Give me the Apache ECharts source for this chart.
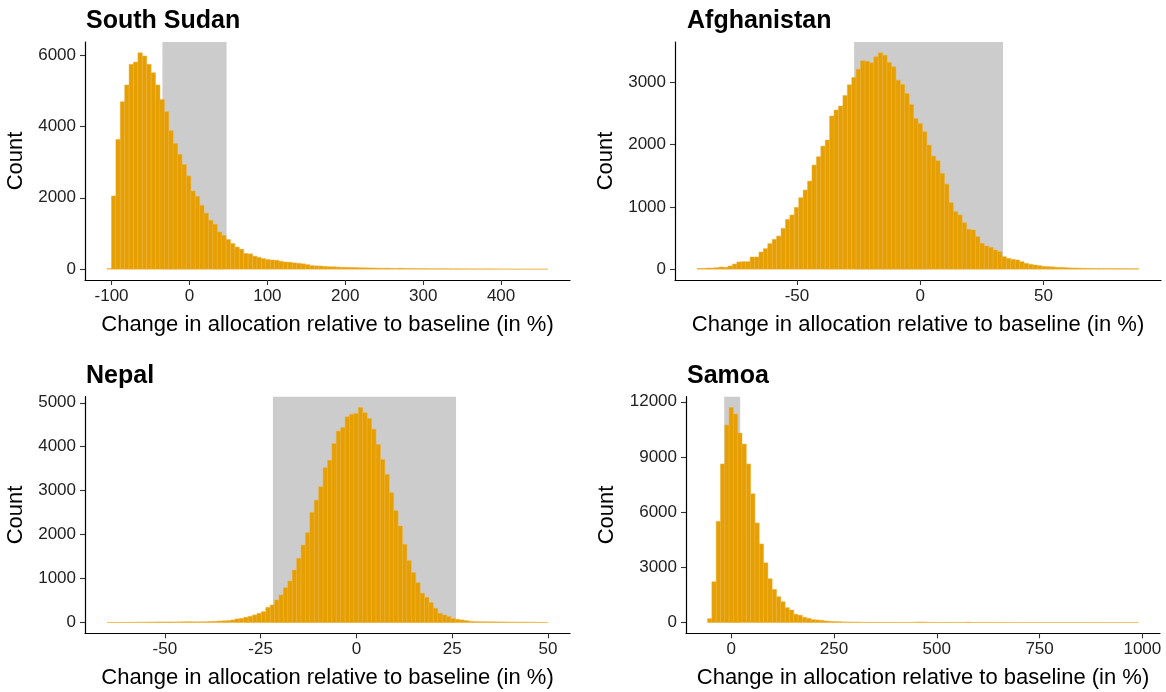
<!DOCTYPE html>
<html><head><meta charset="utf-8">
<script src="https://cdn.jsdelivr.net/npm/echarts@6/dist/echarts.min.js"></script>
<style>html,body{margin:0;padding:0;background:#fff}#c{width:1166px;height:692px}</style>
</head><body><div id="c"></div>
<script>
// ---------- data ----------
const panelTitles = ['South Sudan', 'Afghanistan', 'Nepal', 'Samoa'];
const xAxisTitle = 'Change in allocation relative to baseline (in %)';
const yAxisTitle = 'Count';

// histogram bins: first bin left edge and bin width (in %), 100 bins each
const southSudanBin = { start: -105.8, width: 5.66 };
const afghanistanBin = { start: -90.5, width: 1.792 };
const nepalBin = { start: -65.1, width: 1.151 };
const samoaBin = { start: -57.5, width: 10.48 };

// shaded interval (in %)
const southSudanBand = [-34.7, 47.6];
const afghanistanBand = [-26.8, 33.6];
const nepalBand = [-21.8, 26.0];
const samoaBand = [-17.0, 21.9];

const southSudanCounts = [
  20, 2050, 3630, 4690, 5160, 5740, 5800, 6060, 5970, 5740,
  5500, 5160, 4750, 4410, 3880, 3520, 3220, 2930, 2610, 2190,
  2040, 1790, 1570, 1370, 1260, 1040, 950, 830, 720, 620,
  560, 440, 430, 365, 330, 295, 270, 258, 250, 220,
  200, 195, 175, 165, 150, 127, 100, 92, 88, 75,
  70, 68, 60, 55, 52, 50, 45, 40, 38, 35,
  34, 30, 28, 30, 25, 22, 28, 25, 18, 20,
  18, 15, 17, 14, 12, 15, 13, 11, 10, 12,
  9, 10, 8, 9, 7, 8, 10, 6, 7, 6,
  5, 6, 5, 4, 5, 4, 3, 4, 3, 3
];
const afghanistanCounts = [
  14, 14, 19, 19, 25, 35, 30, 51, 83, 116,
  121, 121, 196, 196, 276, 330, 410, 479, 532, 655,
  800, 870, 993, 1148, 1271, 1415, 1672, 1806, 1977, 2074,
  2459, 2555, 2619, 2790, 2961, 3079, 3213, 3347, 3340, 3315,
  3411, 3475, 3437, 3320, 3250, 3036, 2966, 2822, 2646, 2420,
  2341, 2206, 1993, 1816, 1742, 1538, 1367, 1068, 924, 870,
  747, 640, 629, 522, 415, 372, 351, 308, 281, 201,
  174, 158, 148, 121, 94, 78, 67, 57, 45, 41,
  38, 30, 30, 25, 20, 19, 17, 15, 14, 13,
  12, 12, 11, 11, 10, 10, 9, 9, 8, 8
];
const nepalCounts = [
  5, 5, 6, 6, 7, 8, 8, 9, 10, 12,
  13, 14, 14, 15, 15, 14, 16, 18, 20, 17,
  16, 18, 20, 24, 28, 35, 40, 44, 59, 82,
  97, 120, 142, 173, 210, 248, 346, 400, 514, 627,
  794, 945, 1195, 1460, 1764, 2044, 2507, 2785, 3090, 3520,
  3690, 4074, 4355, 4438, 4680, 4741, 4756, 4893, 4771, 4643,
  4400, 4052, 3711, 3370, 2953, 2544, 2196, 1779, 1408, 1135,
  908, 665, 574, 453, 324, 211, 173, 135, 89, 74,
  59, 44, 29, 21, 20, 19, 18, 17, 16, 14,
  13, 12, 11, 10, 10, 9, 8, 7, 6, 5
];
const samoaCounts = [
  213, 2217, 5502, 8624, 10736, 11693, 11332, 10303, 9700, 8624,
  6995, 5410, 4273, 3245, 2379, 1801, 1404, 1133, 809, 682,
  451, 397, 285, 231, 159, 141, 123, 87, 69, 55,
  50, 35, 32, 30, 28, 20, 18, 16, 15, 15,
  14, 14, 13, 13, 12, 12, 12, 11, 25, 30,
  25, 14, 11, 10, 10, 10, 9, 9, 10, 12,
  25, 10, 9, 9, 8, 8, 8, 7, 7, 7,
  6, 6, 6, 6, 5, 5, 5, 5, 5, 5,
  4, 4, 4, 4, 4, 4, 4, 4, 3, 3,
  3, 3, 3, 3, 3, 3, 3, 2, 2, 2
];

// tick labels
const southSudanXTicks = [-100, 0, 100, 200, 300, 400];
const southSudanYTicks = [0, 2000, 4000, 6000];
const afghanistanXTicks = [-50, 0, 50];
const afghanistanYTicks = [0, 1000, 2000, 3000];
const nepalXTicks = [-50, -25, 0, 25, 50];
const nepalYTicks = [0, 1000, 2000, 3000, 4000, 5000];
const samoaXTicks = [0, 250, 500, 750, 1000];
const samoaYTicks = [0, 3000, 6000, 9000, 12000];

// ---------- build ----------
const panels = [
  { title: panelTitles[0], counts: southSudanCounts, bin: southSudanBin, band: southSudanBand, xt: southSudanXTicks, yt: southSudanYTicks,
    titleLeft: 86, nameGap: 58, grid: { left: 85, top: 42, width: 485, height: 238 } },
  { title: panelTitles[1], counts: afghanistanCounts, bin: afghanistanBin, band: afghanistanBand, xt: afghanistanXTicks, yt: afghanistanYTicks,
    titleLeft: 687, nameGap: 58, grid: { left: 675, top: 42, width: 486, height: 238 } },
  { title: panelTitles[2], counts: nepalCounts, bin: nepalBin, band: nepalBand, xt: nepalXTicks, yt: nepalYTicks,
    titleLeft: 86, nameGap: 58, grid: { left: 85, top: 396.7, width: 485, height: 236.6 } },
  { title: panelTitles[3], counts: samoaCounts, bin: samoaBin, band: samoaBand, xt: samoaXTicks, yt: samoaYTicks,
    titleLeft: 687, nameGap: 68, grid: { left: 686, top: 396.7, width: 474, height: 236.6 } }
];

const FONT = "'Liberation Sans', Arial, sans-serif";
const BAR_FILL = '#E69F00';
const BAR_STROKE = '#EDB13C';
const BAND_FILL = '#CCCCCC';

const option = { animation: false, backgroundColor: '#fff', title: [], grid: [], xAxis: [], yAxis: [], series: [] };
const plain = v => String(v);

panels.forEach((p, k) => {
  const n = p.counts.length;
  const xMin = p.bin.start, xMax = p.bin.start + n * p.bin.width;
  const xPad = 0.05 * (xMax - xMin);
  const yMax = Math.max(...p.counts);

  option.title.push({
    text: p.title, left: p.titleLeft, top: p.grid.top - 33, padding: 0,
    textStyle: { fontFamily: FONT, fontWeight: 'bold', fontSize: 25, color: '#000' }
  });
  option.grid.push(Object.assign({ containLabel: false }, p.grid));

  const axisCommon = {
    axisLine: { show: true, onZero: false, lineStyle: { color: '#000', width: 1.2 } },
    axisTick: { show: true, length: 5, lineStyle: { color: '#333', width: 1.1 } },
    splitLine: { show: false },
    axisLabel: { fontFamily: FONT, fontSize: 17, color: '#222', formatter: plain },
    nameTextStyle: { fontFamily: FONT, fontSize: 22, color: '#000' }
  };

  option.xAxis.push(Object.assign({}, axisCommon, {
    type: 'value', gridIndex: k, min: xMin - xPad, max: xMax + xPad,
    name: xAxisTitle, nameLocation: 'middle', nameGap: 34,
    axisTick: Object.assign({}, axisCommon.axisTick, { customValues: p.xt }),
    axisLabel: Object.assign({}, axisCommon.axisLabel, { customValues: p.xt, margin: 8 })
  }));
  option.yAxis.push(Object.assign({}, axisCommon, {
    type: 'value', gridIndex: k, min: -0.05 * yMax, max: 1.05 * yMax,
    name: yAxisTitle, nameLocation: 'middle', nameRotate: 90, nameGap: p.nameGap,
    axisTick: Object.assign({}, axisCommon.axisTick, { customValues: p.yt }),
    axisLabel: Object.assign({}, axisCommon.axisLabel, { customValues: p.yt, margin: 9 })
  }));

  // shaded band: from 0 up to panel top
  option.series.push({
    type: 'custom', xAxisIndex: k, yAxisIndex: k, silent: true,
    data: [[p.band[0], p.band[1]]],
    renderItem: function (params, api) {
      const a = api.coord([api.value(0), 0]);
      const b = api.coord([api.value(1), 0]);
      const top = params.coordSys.y;
      return { type: 'rect', shape: { x: a[0], y: top, width: b[0] - a[0], height: a[1] - top },
        style: { fill: BAND_FILL } };
    }
  });

  // histogram bars
  const barData = p.counts.map((c, i) => [p.bin.start + i * p.bin.width, p.bin.start + (i + 1) * p.bin.width, c]);
  option.series.push({
    type: 'custom', xAxisIndex: k, yAxisIndex: k, silent: true,
    data: barData,
    encode: { x: [0, 1], y: 2 },
    renderItem: function (params, api) {
      const a = api.coord([api.value(0), 0]);
      const b = api.coord([api.value(1), api.value(2)]);
      return { type: 'rect', shape: { x: a[0], y: b[1], width: b[0] - a[0], height: a[1] - b[1] },
        style: { fill: BAR_FILL, stroke: BAR_STROKE, lineWidth: 0.5 } };
    }
  });
});

const chart = echarts.init(document.getElementById('c'), null, { renderer: 'canvas' });
chart.setOption(option);
</script>
</body></html>
